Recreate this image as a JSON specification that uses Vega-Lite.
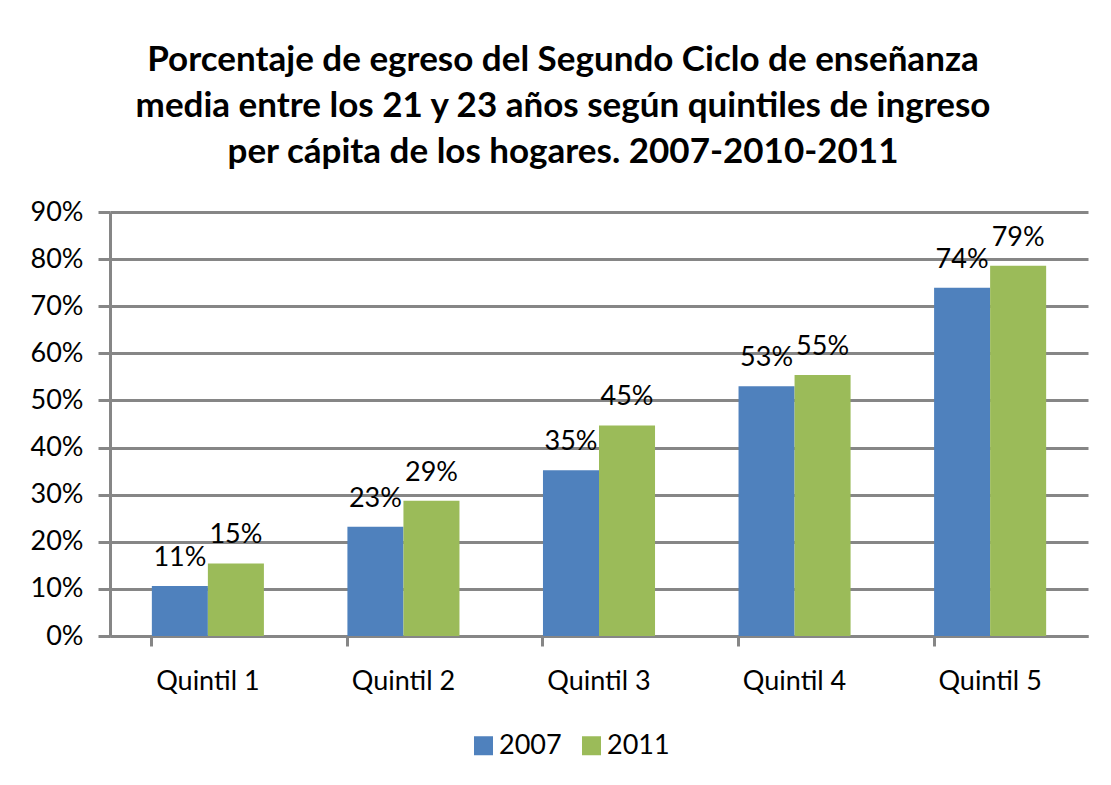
{
  "$schema": "https://vega.github.io/schema/vega-lite/v6.json",
  "width": 978,
  "height": 424,
  "autosize": "none",
  "padding": {"left": 110, "top": 212, "right": 23, "bottom": 149},
  "background": "white",
  "title": {
    "text": ["Porcentaje de egreso del Segundo Ciclo de enseñanza", "media entre los 21 y 23 años según quintiles de ingreso", "per cápita de los hogares. 2007-2010-2011"],
    "font": "Lato",
    "fontSize": 35,
    "fontWeight": "bold",
    "color": "#000000",
    "lineHeight": 46,
    "anchor": "middle",
    "dx": -36,
    "offset": 28
  },
  "data": {
    "values": [
      {"quintil": "Quintil 1", "year": "2007", "value": 0.106},
      {"quintil": "Quintil 1", "year": "2011", "value": 0.154},
      {"quintil": "Quintil 2", "year": "2007", "value": 0.232},
      {"quintil": "Quintil 2", "year": "2011", "value": 0.287},
      {"quintil": "Quintil 3", "year": "2007", "value": 0.352},
      {"quintil": "Quintil 3", "year": "2011", "value": 0.447},
      {"quintil": "Quintil 4", "year": "2007", "value": 0.53},
      {"quintil": "Quintil 4", "year": "2011", "value": 0.554},
      {"quintil": "Quintil 5", "year": "2007", "value": 0.739},
      {"quintil": "Quintil 5", "year": "2011", "value": 0.786}
    ]
  },
  "encoding": {
    "x": {
      "field": "quintil",
      "type": "nominal",
      "scale": {"paddingInner": 0.427, "paddingOuter": 0.214},
      "title": null
    },
    "xOffset": {"field": "year", "type": "nominal", "scale": {"paddingInner": 0, "paddingOuter": 0}},
    "y": {
      "field": "value",
      "type": "quantitative",
      "scale": {"domain": [0, 0.9], "nice": false},
      "title": null,
      "axis": {
        "values": [0, 0.1, 0.2, 0.3, 0.4, 0.5, 0.6, 0.7, 0.8, 0.9],
        "format": ".0%",
        "grid": true,
        "gridColor": "#868686",
        "gridWidth": 3,
        "gridOpacity": 1,
        "domainColor": "#868686",
        "domainWidth": 3,
        "tickColor": "#868686",
        "tickWidth": 3,
        "tickSize": 12,
        "labelPadding": 15,
        "labelFont": "Lato",
        "labelFontSize": 27,
        "labelColor": "#000000"
      }
    }
  },
  "layer": [
    {
      "mark": {"type": "bar"},
      "encoding": {
        "x": {
          "field": "quintil",
          "type": "nominal",
          "title": null,
          "axis": {
            "orient": "bottom",
            "labelAngle": 0,
            "ticks": false,
            "domainColor": "#868686",
            "domainWidth": 3,
            "labelPadding": 32,
            "labelFont": "Lato",
            "labelFontSize": 27,
            "labelColor": "#000000",
            "grid": false
          }
        },
        "color": {
          "field": "year",
          "type": "nominal",
          "scale": {"domain": ["2007", "2011"], "range": ["#4F81BD", "#9BBB59"]},
          "legend": {
            "title": null,
            "orient": "none",
            "direction": "horizontal",
            "legendX": 360,
            "legendY": 520,
            "symbolType": "square",
            "symbolSize": 361,
            "symbolStrokeWidth": 0,
            "symbolOpacity": 1,
            "labelFont": "Lato",
            "labelFontSize": 27,
            "labelColor": "#000000",
            "labelOffset": 2,
            "columnPadding": 16
          }
        }
      }
    },
    {
      "mark": {"type": "text", "font": "Lato", "fontSize": 27, "color": "#000000", "baseline": "alphabetic", "dy": -20},
      "encoding": {
        "x": {
          "field": "quintil",
          "type": "nominal",
          "title": null,
          "axis": {
            "orient": "bottom",
            "bandPosition": 0,
            "labels": false,
            "domain": false,
            "ticks": true,
            "tickColor": "#868686",
            "tickWidth": 3,
            "tickSize": 10,
            "grid": false
          }
        },
        "text": {"field": "value", "type": "quantitative", "format": ".0%"}
      }
    }
  ],
  "resolve": {"axis": {"x": "independent"}},
  "config": {
    "view": {"stroke": null},
    "axis": {"domainCap": "butt"}
  }
}
